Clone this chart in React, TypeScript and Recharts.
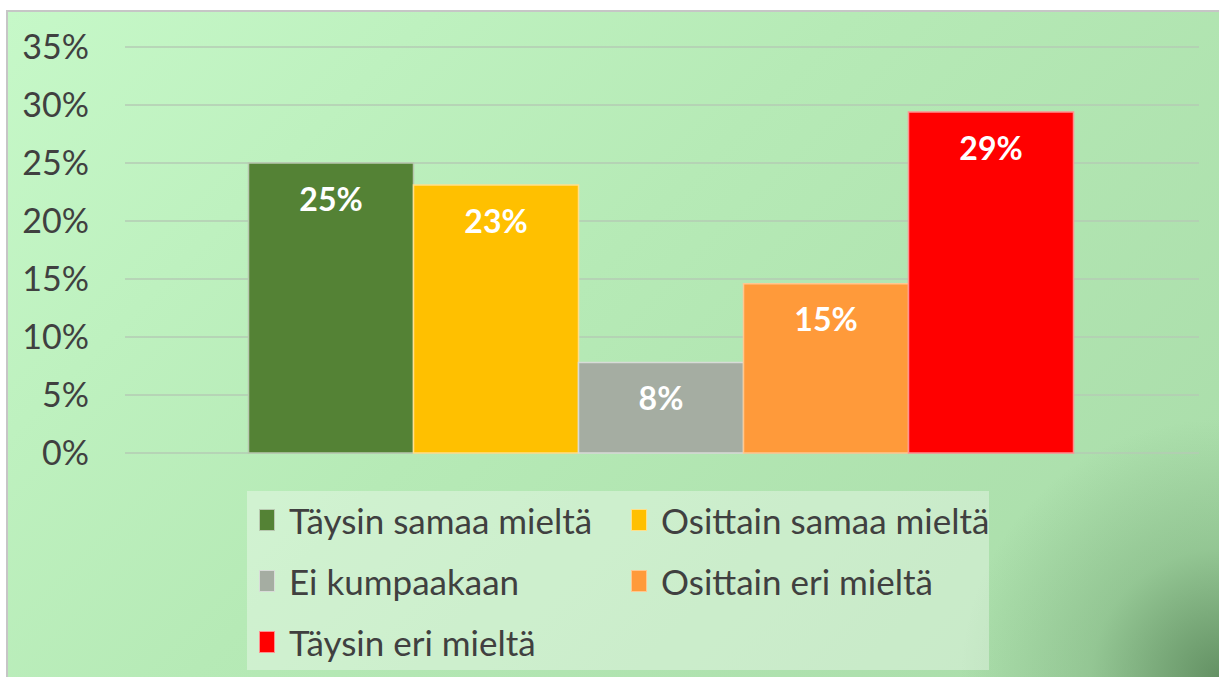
import React from 'react';
import { BarChart, Bar, XAxis, YAxis, CartesianGrid, Legend, LabelList } from 'recharts';

const categories = ['Täysin samaa mieltä', 'Osittain samaa mieltä', 'Ei kumpaakaan', 'Osittain eri mieltä', 'Täysin eri mieltä'];
const values = [25.0, 23.1, 7.8, 14.6, 29.4];
const colors = ['#548235', '#FFC000', '#A5ADA2', '#FF9A3A', '#FF0000'];
const strokes = ['#b8c8b0', '#ffe08a', '#d8dcd8', '#ffc890', '#ff9090'];
const yTicks = [0, 5, 10, 15, 20, 25, 30, 35];

const row: Record<string, number | string> = { name: '' };
categories.forEach((c, i) => {
  row[`s${i}`] = values[i];
});
const data = [row];

const FONT = 'Lato, "Open Sans", sans-serif';

const LegendBox = () => (
  <div
    style={{
      position: 'absolute',
      left: 239,
      top: 479,
      width: 742,
      height: 179,
      background: 'rgba(255,255,255,0.35)',
      fontFamily: FONT,
      fontSize: 35,
      color: '#404040',
    }}
  >
    {categories.map((c, i) => (
      <div
        key={c}
        style={{
          position: 'absolute',
          left: i % 2 === 0 ? 12 : 384,
          top: 9 + Math.floor(i / 2) * 61,
          display: 'flex',
          alignItems: 'center',
          whiteSpace: 'nowrap',
          height: 40,
        }}
      >
        <span
          style={{
            display: 'inline-block',
            width: 14,
            height: 20,
            background: colors[i],
            border: `1px solid ${strokes[i]}`,
            marginRight: 14,
          }}
        />
        {c}
      </div>
    ))}
  </div>
);

const App: React.FC = () => {
  return (
    <div
      style={{
        position: 'absolute',
        left: 6,
        top: 10,
        width: 1213,
        height: 667,
        border: '2px solid #c6c6c6',
        borderRight: 'none',
        borderBottom: 'none',
        background:
          'radial-gradient(circle at 100% 100%, rgba(95,140,95,0.95) 0px, rgba(120,170,120,0.45) 130px, rgba(168,219,168,0) 260px), linear-gradient(135deg, #c6f8c8 0%, #b6eab6 45%, #a8dba8 100%)',
        overflow: 'hidden',
      }}
    >
      <BarChart
        width={1213}
        height={667}
        data={data}
        margin={{ top: 35, right: 22, bottom: 226, left: 0 }}
        barCategoryGap="11.5%"
        barGap={0}
      >
        <CartesianGrid vertical={false} stroke="#b4cbb4" strokeWidth={1.5} />
        <XAxis dataKey="name" tick={false} tickLine={false} height={0} axisLine={{ stroke: '#8fa88f', strokeWidth: 1.5 }} />
        <YAxis
          width={117}
          domain={[0, 35]}
          ticks={yTicks}
          tickFormatter={(v: number) => `${v}%`}
          axisLine={false}
          tickLine={false}
          tickSize={0}
          tickMargin={36}
          tick={{ fill: '#404040', fontSize: 34, fontFamily: FONT }}
        />
        <Legend content={() => null} />
        {categories.map((c, i) => (
          <Bar
            key={c}
            dataKey={`s${i}`}
            name={c}
            fill={colors[i]}
            stroke={strokes[i]}
            strokeWidth={1.5}
            isAnimationActive={false}
          >
            <LabelList
              dataKey={`s${i}`}
              position="insideTop"
              offset={25}
              formatter={(v: number) => `${Math.round(v)}%`}
              style={{ fill: '#ffffff', fontSize: 32, fontWeight: 700, fontFamily: FONT }}
            />
          </Bar>
        ))}
      </BarChart>
      <LegendBox />
    </div>
  );
};

export default App;
